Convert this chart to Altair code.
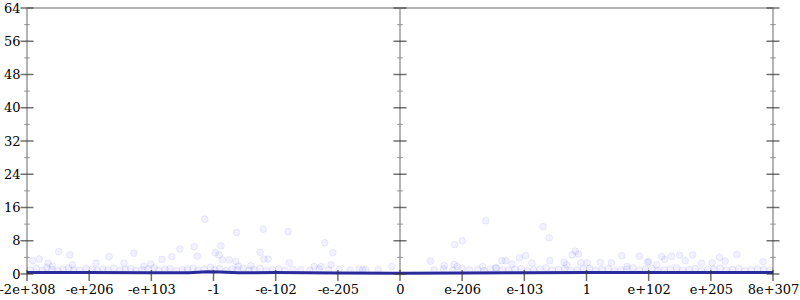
import json
import altair as alt
import pandas as pd

# ---- data ----
x_ticks = list(range(-6, 7))
x_labels = ["-2e+308", "-e+206", "-e+103", "-1", "-e-102", "-e-205", "0",
            "e-206", "e-103", "1", "e+102", "e+205", "8e+307"]
y_major = [0, 8, 16, 24, 32, 40, 48, 56, 64]
y_minor = [4, 12, 20, 28, 36, 44, 52, 60]
axis_x = [-6, 0, 6]

# scattered samples (x in tick-index units, y in counts)
pts_x = [-5.49, -5.31, -5.80, -5.91, -4.68, -4.28, -5.66, -5.59, -5.27, -4.89, -4.44, -4.12,
         -4.01, -3.83, -3.67, -3.54, -3.31, -3.26, -3.14, -2.97, -2.91, -2.88, -2.86, -2.75,
         -2.64, -2.63, -2.60, -2.40, -2.25, -2.20, -2.19, -2.12, -1.80, -1.78, -1.38, -1.27,
         -1.21, -1.11, -1.08, -0.66, -0.55, -0.13,
         0.49, 0.71, 0.87, 0.88, 0.92, 1.00, 1.33, 1.38, 1.54, 1.64, 1.70, 1.80, 1.92, 2.02,
         2.12, 2.30, 2.40, 2.41, 2.64, 2.68, 2.77, 2.82, 2.87, 2.91, 3.01, 3.22, 3.40, 3.57,
         3.65, 3.85, 3.98, 4.00, 4.13, 4.21, 4.26, 4.37, 4.50, 4.59, 4.71, 4.85, 5.02, 5.14,
         5.23, 5.42, 5.84]
pts_y = [5.4, 4.6, 3.6, 3.2, 4.2, 5.0, 2.6, 1.9, 2.2, 2.6, 2.6, 1.9,
         2.4, 3.5, 4.2, 6.0, 6.6, 4.3, 13.2, 5.1, 4.6, 6.8, 3.4, 3.4,
         3.0, 10.0, 1.9, 2.0, 5.2, 10.8, 3.6, 3.6, 10.2, 2.7, 1.8, 1.8,
         7.5, 2.2, 5.1, 1.2, 1.1, 1.8,
         3.1, 2.0, 2.3, 7.1, 1.8, 8.0, 1.8, 12.8, 1.5, 3.2, 3.2, 2.4, 3.9, 4.4,
         2.6, 11.4, 8.7, 3.2, 2.8, 2.2, 4.6, 5.5, 4.8, 2.7, 2.7, 2.8, 2.7, 4.4,
         1.8, 4.3, 2.8, 3.0, 2.2, 4.2, 3.5, 4.3, 4.5, 3.2, 4.6, 2.6, 2.7, 4.0,
         3.1, 4.7, 3.0]

# dense band of samples just above zero
row_x = [-5.95, -5.85, -5.75, -5.68, -5.60, -5.50, -5.42, -5.33, -5.25, -5.15, -5.05, -4.95,
         -4.87, -4.78, -4.70, -4.60, -4.50, -4.42, -4.33, -4.25, -4.15, -4.05, -3.95, -3.88,
         -3.78, -3.70, -3.60, -3.50, -3.42, -3.33, -3.25, -3.15, -3.05, -2.98, -2.90, -2.80,
         -2.70, -2.62, -2.52, -2.43, -2.35, -2.25, -2.15, -2.05, -1.95, -1.85, -1.72, -1.60,
         -1.45, -1.30, -1.15, -0.98, -0.80, -0.60, -0.35,
         0.55, 0.70, 0.85, 1.00, 1.12, 1.25, 1.35, 1.45, 1.55, 1.65, 1.75, 1.85, 1.95, 2.05,
         2.15, 2.25, 2.35, 2.45, 2.55, 2.65, 2.75, 2.85, 2.95, 3.05, 3.15, 3.25, 3.35, 3.45,
         3.55, 3.65, 3.75, 3.85, 3.95, 4.05, 4.15, 4.25, 4.35, 4.45, 4.55, 4.65, 4.75, 4.85,
         4.95, 5.05, 5.15, 5.25, 5.35, 5.45, 5.55, 5.65, 5.75, 5.85, 5.95]
row_y = [1.0, 1.3, 0.9, 1.5, 1.1, 0.8, 1.2, 1.4, 1.0, 0.9, 1.3, 1.1,
         0.8, 1.2, 1.0, 1.4, 0.9, 1.1, 1.3, 0.8, 1.0, 1.2, 1.5, 0.9,
         1.1, 1.3, 0.8, 1.0, 1.2, 1.4, 0.9, 1.1, 1.6, 1.0, 1.3, 0.8,
         1.2, 1.0, 1.4, 0.9, 1.1, 1.3, 0.8, 1.0, 1.2, 0.9, 1.1, 1.0,
         0.9, 1.2, 1.0, 1.1, 0.9, 1.0, 1.1,
         1.0, 1.2, 0.9, 1.3, 1.0, 1.1, 0.8, 1.2, 1.4, 1.0, 0.9, 1.1, 1.3, 0.8,
         1.0, 1.2, 1.5, 0.9, 1.1, 1.3, 0.8, 1.0, 1.2, 1.4, 0.9, 1.1, 1.3, 0.8,
         1.0, 1.2, 1.5, 0.9, 1.1, 1.3, 0.8, 1.0, 1.2, 1.4, 0.9, 1.1, 1.3, 0.8,
         1.0, 1.2, 1.4, 0.9, 1.1, 1.3, 0.8, 1.0, 1.2, 1.1, 0.9]

# density line
line_x = [-6, -5, -4, -3.4, -3.1, -2.9, -2.6, -2, -1, 0, 1, 2, 3, 4, 5, 6]
line_y = [0.35, 0.35, 0.3, 0.3, 0.55, 0.5, 0.3, 0.35, 0.25, 0.2, 0.25, 0.3, 0.35, 0.35, 0.35, 0.35]

# ---- frames ----
df_axes = pd.DataFrame({"u": axis_x, "v": [0] * len(axis_x), "v1": [64] * len(axis_x)})
df_top = pd.DataFrame({"u": [-6], "u1": [6], "v": [64]})
df_ymaj = pd.DataFrame([{"u": a, "v": v} for a in axis_x for v in y_major])
df_ymin = pd.DataFrame([{"u": a, "v": v} for a in axis_x for v in y_minor])
df_xt = pd.DataFrame({"u": x_ticks, "v": [0] * len(x_ticks)})
df_pts = pd.DataFrame({"u": pts_x + row_x, "v": pts_y + row_y})
df_line = pd.DataFrame({"u": line_x, "v": line_y})

xs = alt.Scale(domain=[-6, 6], nice=False, zero=False)
ys = alt.Scale(domain=[0, 64], nice=False, zero=False)

label_expr = json.dumps(x_labels) + "[round(datum.value) + 6]"
xaxis = alt.Axis(values=x_ticks, labelExpr=label_expr, ticks=False, domain=False, grid=False,
                 labelFont="DejaVu Serif", labelFontSize=13, labelColor="#000000",
                 labelPadding=9, title=None, labelOverlap=False, labelFlush=False)
yaxis = alt.Axis(values=y_major, ticks=False, domain=False, grid=False,
                 labelFont="DejaVu Serif", labelFontSize=13, labelColor="#000000",
                 labelPadding=7, title=None, labelOverlap=False, labelFlush=False)

X = alt.X("u:Q", scale=xs, axis=xaxis)
Y = alt.Y("v:Q", scale=ys, axis=yaxis)

axes = alt.Chart(df_axes).mark_rule(color="#b3b3b3", strokeWidth=2).encode(x=X, y=Y, y2="v1:Q")
top = alt.Chart(df_top).mark_rule(color="#b3b3b3", strokeWidth=2).encode(x=X, x2="u1:Q", y=Y)
pts = alt.Chart(df_pts).mark_point(shape="circle", filled=False, size=45, fill="#1a1aff",
                                   fillOpacity=0.06, stroke="#1a1aff", strokeOpacity=0.08,
                                   strokeWidth=1).encode(x=X, y=Y)
line = alt.Chart(df_line).mark_line(color="#2a2a9c", strokeWidth=3).encode(x=X, y=Y)
ymaj = alt.Chart(df_ymaj).mark_tick(orient="horizontal", size=13, thickness=1.5,
                                    color="#333333").encode(x=X, y=Y)
ymin = alt.Chart(df_ymin).mark_tick(orient="horizontal", size=6, thickness=1,
                                    color="#777777").encode(x=X, y=Y)
xt = alt.Chart(df_xt).mark_tick(orient="vertical", size=11, thickness=1.5, color="#333333",
                                yOffset=1.5).encode(x=X, y=Y)

chart = alt.layer(axes, top, pts, line, ymin, ymaj, xt).properties(
    width=746, height=266,
    autosize=alt.AutoSizeParams(type="none"),
    padding={"left": 27, "top": 8, "right": 27, "bottom": 26},
).configure_view(stroke=None)

chart.save("out.html", embed_options={"renderer": "svg", "actions": False})
